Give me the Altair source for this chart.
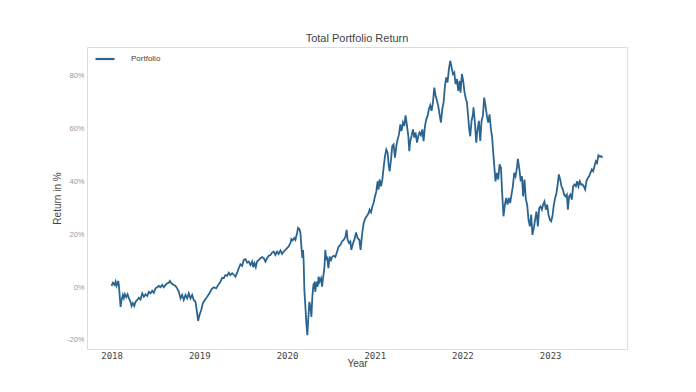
import altair as alt
import pandas as pd

years = [
 2018.000,2018.015,2018.034,2018.046,2018.057,2018.076,2018.083,2018.103,2018.114,2018.129,
 2018.140,2018.151,2018.167,2018.182,2018.197,2018.216,2018.228,2018.243,2018.259,2018.273,
 2018.293,2018.311,2018.330,2018.350,2018.368,2018.387,2018.407,2018.425,2018.444,2018.464,
 2018.482,2018.501,2018.521,2018.539,2018.558,2018.577,2018.596,2018.615,2018.634,2018.653,
 2018.664,2018.683,2018.710,2018.729,2018.748,2018.767,2018.786,2018.805,2018.823,2018.843,
 2018.862,2018.880,2018.900,2018.919,2018.937,2018.957,2018.976,2018.987,2019.002,2019.022,
 2019.040,2019.063,2019.090,2019.116,2019.139,2019.165,2019.192,2019.215,2019.241,2019.261,
 2019.279,2019.298,2019.318,2019.336,2019.355,
 2019.375,2019.386,2019.412,2019.432,2019.450,2019.469,2019.489,2019.507,2019.526,2019.546,
 2019.564,2019.583,2019.603,2019.614,2019.629,2019.644,2019.659,2019.678,2019.697,2019.716,
 2019.735,2019.754,2019.773,2019.792,2019.811,2019.830,2019.849,2019.868,2019.887,2019.905,
 2019.925,2019.944,2019.962,2019.982,2020.001,2020.019,2020.039,2020.050,2020.065,2020.084,
 2020.096,2020.115,2020.126,2020.141,2020.153,2020.164,2020.175,2020.183,2020.190,2020.198,
 2020.210,2020.221,2020.232,2020.244,2020.255,2020.267,2020.278,2020.289,2020.301,2020.312,
 2020.323,2020.335,2020.350,2020.361,2020.372,2020.388,2020.400,2020.411,2020.426,2020.437,
 2020.449,2020.457,2020.472,2020.486,2020.502,2020.517,2020.532,2020.551,2020.571,2020.589,
 2020.608,2020.628,2020.646,2020.665,2020.680,2020.691,2020.707,2020.722,
 2020.733,2020.753,2020.768,2020.787,2020.805,2020.825,2020.839,2020.855,2020.874,2020.893,
 2020.912,2020.931,2020.942,2020.958,2020.973,2020.987,2021.003,2021.018,2021.033,2021.044,
 2021.056,2021.072,2021.087,2021.101,2021.117,2021.132,2021.147,2021.158,2021.170,2021.186,
 2021.200,2021.215,2021.231,2021.246,2021.261,2021.277,2021.292,2021.306,2021.322,2021.337,
 2021.352,2021.368,2021.383,2021.394,2021.405,2021.420,2021.436,2021.451,2021.466,2021.482,
 2021.497,2021.511,2021.527,2021.542,2021.557,2021.573,2021.588,2021.603,2021.618,2021.633,
 2021.648,2021.664,2021.679,2021.694,2021.710,2021.724,2021.739,2021.755,2021.770,2021.785,
 2021.801,2021.815,2021.830,2021.846,2021.861,2021.876,2021.892,2021.907,2021.921,2021.937,
 2021.952,2021.967,2021.978,2021.994,2022.009,2022.024,2022.040,2022.051,2022.066,2022.077,
 2022.089,2022.104,2022.120,2022.126,2022.142,2022.157,2022.172,2022.188,2022.203,2022.218,
 2022.233,2022.248,2022.263,2022.279,2022.294,2022.309,2022.325,2022.339,2022.354,2022.366,
 2022.377,2022.393,2022.408,2022.423,2022.439,2022.453,2022.468,2022.484,2022.499,2022.514,
 2022.530,2022.544,2022.559,2022.575,2022.590,2022.605,2022.621,2022.632,2022.647,2022.662,
 2022.678,2022.692,2022.707,2022.723,2022.738,2022.753,2022.769,2022.784,2022.798,2022.814,
 2022.829,2022.844,2022.860,2022.875,2022.890,2022.906,2022.920,2022.935,2022.951,2022.966,
 2022.981,2022.997,2023.011,2023.026,2023.042,2023.057,2023.072,2023.088,2023.099,2023.114,
 2023.129,2023.145,2023.159,2023.174,2023.190,2023.202,2023.216,2023.231,2023.247,2023.262,
 2023.277,2023.293,2023.308,2023.322,2023.338,2023.353,2023.368,2023.384,2023.399,2023.413,
 2023.429,2023.444,2023.459,2023.475,2023.490,2023.505,2023.521,2023.535,2023.550,2023.566,
 2023.581,2023.596,
]

returns = [
 0.4,1.6,0.8,2.0,0.4,2.3,0.8,-7.5,-4.9,-3.0,
 -4.2,-2.7,-3.8,-2.7,-4.2,-5.6,-7.2,-6.1,-7.2,-5.6,
 -4.9,-4.1,-4.7,-2.4,-3.7,-2.8,-3.4,-1.8,-2.4,-1.4,
 -2.2,-0.5,-0.1,0.4,-0.1,0.8,-0.1,0.8,1.4,1.6,
 2.3,1.4,0.8,0.4,-0.5,-1.8,-4.3,-3.0,-4.9,-3.0,
 -4.3,-2.4,-4.3,-3.0,-4.9,-5.6,-10.0,-12.8,-10.6,-8.7,
 -6.2,-4.9,-3.7,-2.4,-0.9,-0.1,-0.5,0.8,2.0,3.5,
 3.3,4.5,4.2,5.4,4.5,
 5.2,4.9,3.9,5.4,7.1,8.6,8.0,10.2,10.5,9.2,
 9.6,8.3,9.6,7.5,9.0,7.5,9.6,10.2,10.9,11.3,
 10.9,9.6,10.9,11.8,12.1,13.0,13.4,12.1,13.4,12.5,
 13.8,12.5,13.4,14.0,14.7,15.3,16.6,18.1,17.6,18.5,
 17.8,20.4,22.3,21.9,20.4,15.3,11.0,14.0,9.5,-1.1,
 -7.5,-13.8,-18.2,-11.3,-5.6,-7.5,-11.3,-3.7,0.8,1.4,
 -1.8,2.0,0.1,3.9,2.0,3.3,0.1,3.3,7.1,14.0,
 10.2,11.5,7.1,11.5,10.2,11.5,11.8,11.3,13.4,15.3,
 15.9,17.2,17.8,18.8,21.6,17.8,16.6,17.2,
 14.0,16.6,17.8,20.6,18.5,17.8,14.0,19.7,24.2,26.0,
 26.9,27.9,29.2,28.2,30.4,31.7,34.2,36.1,39.9,36.8,
 40.6,38.0,40.6,45.0,49.4,51.9,50.7,46.3,43.7,48.2,
 53.2,53.8,48.8,53.2,55.7,57.6,61.4,58.9,62.1,60.8,
 64.8,60.8,57.0,51.3,55.1,57.0,59.5,56.4,58.3,54.5,
 57.0,58.3,57.3,59.5,55.1,60.8,63.3,64.6,67.1,68.6,
 66.5,69.7,75.3,72.2,70.3,68.4,65.2,62.1,67.1,69.7,
 75.9,79.1,77.2,82.3,85.4,82.9,80.4,81.0,76.6,78.5,
 74.0,77.8,73.4,80.4,77.7,73.4,70.9,69.8,64.1,59.5,
 56.9,62.7,65.2,67.8,62.1,54.5,59.5,62.7,55.1,62.7,
 64.6,71.5,68.4,64.6,62.1,65.2,59.5,56.4,49.4,44.4,
 39.9,43.1,40.6,46.3,45.0,35.5,26.7,31.1,33.6,31.1,
 33.6,31.7,34.9,38.0,43.1,41.8,45.0,48.4,45.0,40.6,
 41.8,34.2,40.6,33.0,31.1,25.4,22.9,27.3,19.7,22.3,
 25.4,28.5,22.9,29.8,30.4,29.2,31.1,32.3,29.2,31.1,
 27.3,25.4,24.8,26.7,31.1,33.6,35.5,39.3,42.5,40.6,
 38.0,36.8,34.9,34.2,34.9,29.2,34.2,34.9,33.0,38.0,
 38.7,38.0,39.9,38.0,39.9,38.7,38.7,38.0,36.8,39.9,
 41.2,41.8,43.1,44.4,43.7,45.6,47.5,46.9,49.7,49.2,
 49.4,48.8,
]

series_name = "Portfolio"
year_ticks = [2018, 2019, 2020, 2021, 2022, 2023]
pct_ticks = [-20, 0, 20, 40, 60, 80]

df = pd.DataFrame({"Year": years, "Return": returns, "Series": series_name})

chart = alt.Chart(df).mark_line(strokeWidth=1.8, clip=True).encode(
    x=alt.X("Year:Q",
            scale=alt.Scale(domain=[2017.72, 2023.876], nice=False, zero=False),
            axis=alt.Axis(values=year_ticks, format="d", title="Year",
                          labelFont="DejaVu Sans Mono", labelFontSize=9, labelColor="#444444",
                          labelPadding=2, ticks=False, grid=False, domain=False,
                          titleFont="Liberation Sans", titleFontSize=10, titleFontWeight="normal",
                          titleColor="#444444", titlePadding=-2)),
    y=alt.Y("Return:Q",
            scale=alt.Scale(domain=[-23.4, 90.6], nice=False, zero=False),
            axis=alt.Axis(values=pct_ticks, labelExpr="datum.value + '%'", title="Return in %",
                          labelFont="Liberation Sans", labelFontSize=7.5, labelColor="#9a9a9a",
                          labelPadding=3, ticks=False, grid=False, domain=False,
                          titleFont="Liberation Sans", titleFontSize=10, titleFontWeight="normal",
                          titleColor="#444444", titlePadding=4)),
    color=alt.Color("Series:N",
                    scale=alt.Scale(domain=[series_name], range=["#2a6592"]),
                    legend=alt.Legend(title=None, orient="none", legendX=7, legendY=1,
                                      symbolType="stroke", symbolSize=361, symbolStrokeWidth=2.2,
                                      labelOffset=15, labelFont="Liberation Sans",
                                      labelFontSize=8, labelColor="#444444", padding=0)),
).properties(
    width=540, height=302,
    autosize="none",
    padding={"left": 79, "top": 39, "right": 61, "bottom": 35},
    title=alt.TitleParams("Total Portfolio Return", font="Liberation Sans", fontSize=11,
                          fontWeight="normal", color="#444444", offset=3, anchor="middle"),
).configure_view(stroke="#e2e2e2", strokeWidth=1.5).configure(background="white")

chart.save("out.html", embed_options={"renderer": "svg", "actions": False})
